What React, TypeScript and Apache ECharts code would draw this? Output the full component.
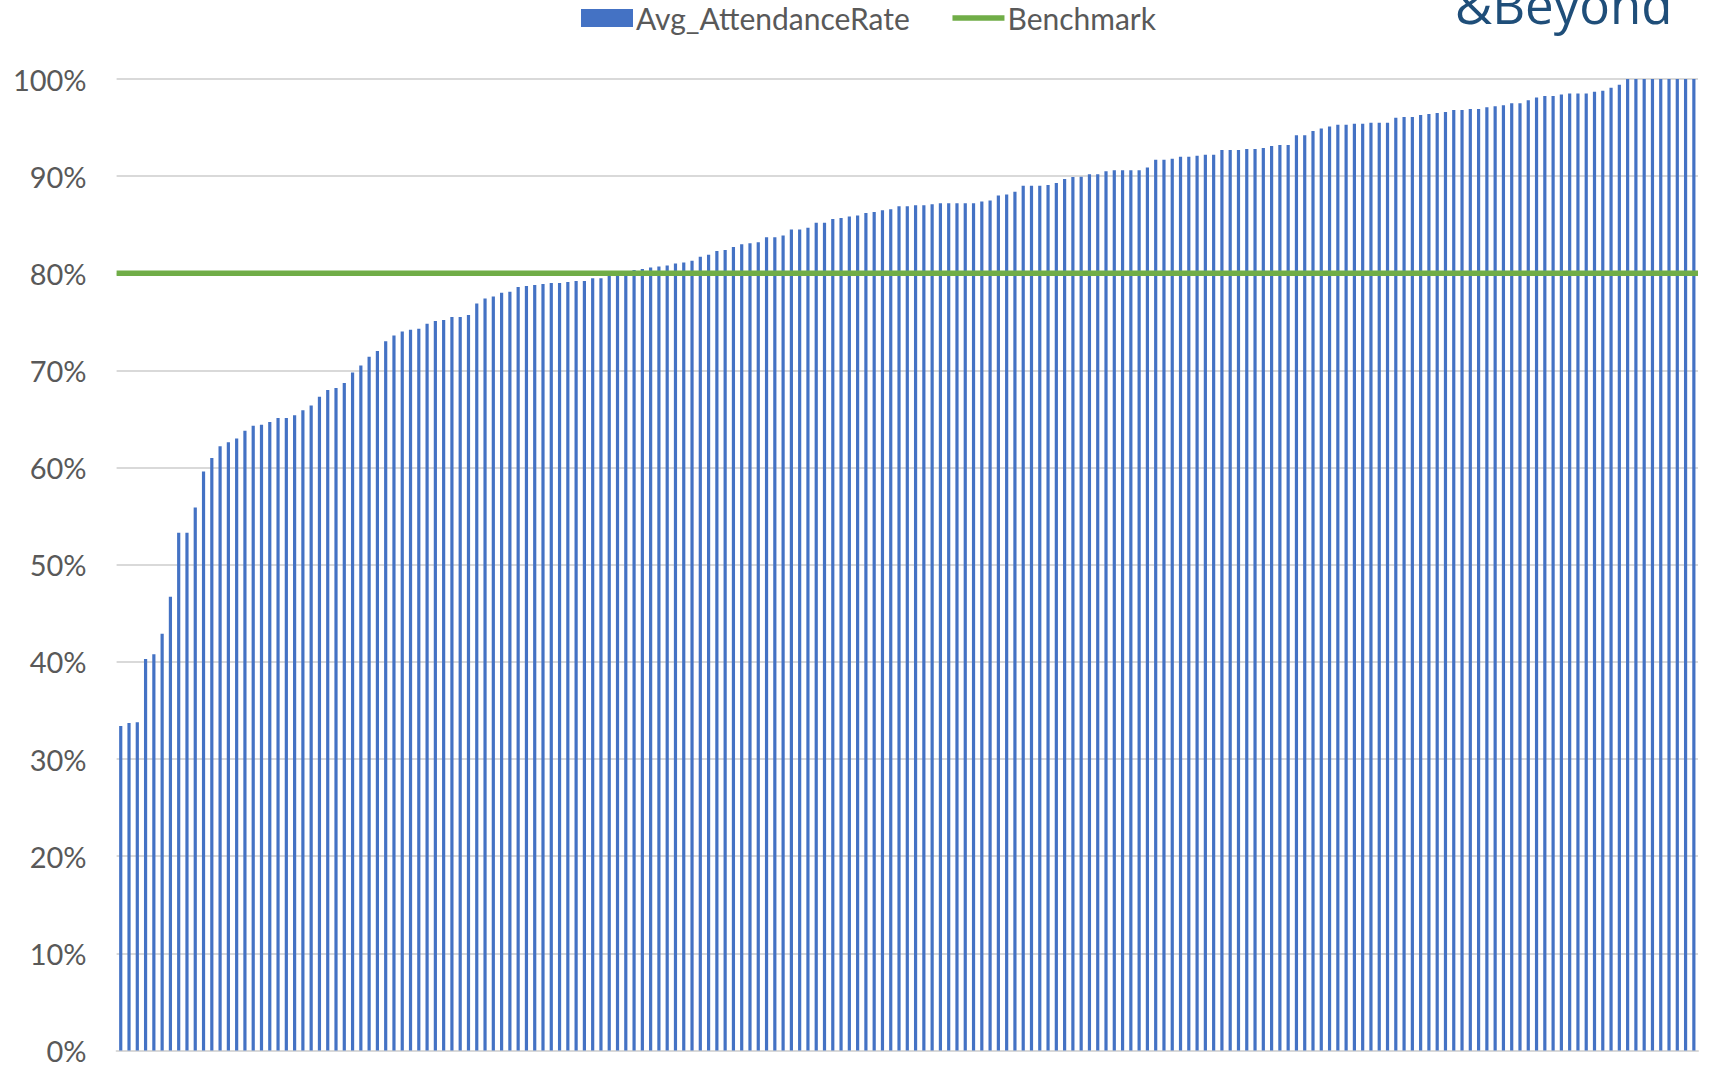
import React, { useEffect, useRef } from "react";
import * as echarts from "echarts";

// Average attendance rate per school (%), sorted ascending
const attendanceRates: number[] = [
  33.4, 33.7, 33.8, 40.3, 40.8, 42.9, 46.7, 53.3, 53.3, 55.9,
  59.6, 61.0, 62.2, 62.6, 63.0, 63.8, 64.3, 64.4, 64.7, 65.1,
  65.1, 65.4, 65.9, 66.4, 67.3, 68.0, 68.2, 68.7, 69.8, 70.5,
  71.4, 72.0, 73.0, 73.6, 74.0, 74.2, 74.3, 74.8, 75.1, 75.2,
  75.5, 75.5, 75.7, 76.9, 77.4, 77.6, 78.0, 78.1, 78.6, 78.7,
  78.8, 78.9, 79.0, 79.0, 79.1, 79.2, 79.2, 79.5, 79.5, 79.8,
  80.0, 80.1, 80.35, 80.45, 80.6, 80.7, 80.8, 81.0, 81.1, 81.3,
  81.7, 81.9, 82.3, 82.4, 82.7, 83.0, 83.1, 83.2, 83.7, 83.7,
  83.9, 84.5, 84.5, 84.7, 85.2, 85.2, 85.6, 85.7, 85.85, 85.95,
  86.2, 86.3, 86.5, 86.6, 86.9, 86.9, 87.0, 87.0, 87.1, 87.2,
  87.2, 87.2, 87.2, 87.2, 87.4, 87.5, 88.0, 88.1, 88.4, 89.0,
  89.0, 89.0, 89.1, 89.3, 89.7, 89.9, 89.95, 90.2, 90.2, 90.5,
  90.6, 90.6, 90.6, 90.6, 90.9, 91.7, 91.7, 91.8, 92.0, 92.0,
  92.1, 92.2, 92.2, 92.7, 92.7, 92.7, 92.8, 92.8, 92.9, 93.1,
  93.2, 93.2, 94.2, 94.2, 94.65, 94.9, 95.1, 95.3, 95.3, 95.4,
  95.4, 95.5, 95.5, 95.5, 96.0, 96.1, 96.1, 96.3, 96.4, 96.5,
  96.6, 96.8, 96.8, 96.9, 96.9, 97.1, 97.2, 97.3, 97.5, 97.5,
  97.8, 98.1, 98.25, 98.25, 98.4, 98.5, 98.5, 98.5, 98.7, 98.8,
  99.1, 99.4, 100, 100, 100, 100, 100, 100, 100, 100,
  100,
];

const BENCHMARK = 80;
const categories: string[] = attendanceRates.map((_, i) => String(i + 1));
const benchmarkValues: number[] = categories.map(() => BENCHMARK);

const yTicks = { min: 0, max: 100, interval: 10 };
const seriesNames = ["Avg_AttendanceRate", "Benchmark"];

export default function App() {
  const ref = useRef<HTMLDivElement>(null);

  useEffect(() => {
    if (!ref.current) return;
    const chart = echarts.init(ref.current, undefined, { renderer: "svg" });
    const font = "Lato";
    chart.setOption({
      animation: false,
      backgroundColor: "#ffffff",
      textStyle: { fontFamily: font },
      legend: {
        left: 576,
        top: -2,
        itemWidth: 52,
        itemHeight: 18,
        itemGap: 40,
        textStyle: { fontSize: 30, color: "#595959", fontFamily: font, padding: [0, 0, 0, -2] },
        data: [
          { name: seriesNames[0], icon: "rect" },
          {
            name: seriesNames[1],
            itemStyle: { opacity: 0 },
            lineStyle: { width: 5.5, color: "#70AD47" },
          },
        ],
      },
      grid: { left: 116.6, right: 11, top: 79, bottom: 14, containLabel: false },
      xAxis: [
        {
          type: "category",
          data: categories,
          boundaryGap: true,
          axisLine: { show: true, lineStyle: { color: "#D9D9D9", width: 2 } },
          axisTick: { show: false },
          axisLabel: { show: false },
          splitLine: { show: false },
        },
        {
          type: "category",
          data: categories,
          boundaryGap: false,
          show: false,
        },
      ],
      yAxis: {
        type: "value",
        min: yTicks.min,
        max: yTicks.max,
        interval: yTicks.interval,
        axisLine: { show: false },
        axisTick: { show: false },
        axisLabel: {
          formatter: "{value}%",
          fontSize: 29,
          color: "#595959",
          fontFamily: font,
          margin: 30,
        },
        splitLine: { lineStyle: { color: "#D9D9D9", width: 2 } },
      },
      series: [
        {
          name: seriesNames[0],
          type: "bar",
          xAxisIndex: 0,
          data: attendanceRates,
          barWidth: 3.2,
          itemStyle: { color: "#4472C4" },
          z: 2,
        },
        {
          name: seriesNames[1],
          type: "line",
          xAxisIndex: 1,
          data: benchmarkValues,
          symbol: "none",
          showSymbol: false,
          lineStyle: { color: "#70AD47", width: 5.5 },
          itemStyle: { color: "#70AD47" },
          z: 3,
        },
      ],
      graphic: [
        {
          type: "text",
          left: 1455,
          top: -22,
          style: {
            text: "&Beyond",
            fontSize: 51,
            fontFamily: "Open Sans",
            fill: "#1F4E79",
          },
        },
      ],
    });
    return () => chart.dispose();
  }, []);

  return (
    <div
      ref={ref}
      style={{ position: "fixed", left: 0, top: 0, width: 1709, height: 1065, background: "#fff" }}
    />
  );
}
